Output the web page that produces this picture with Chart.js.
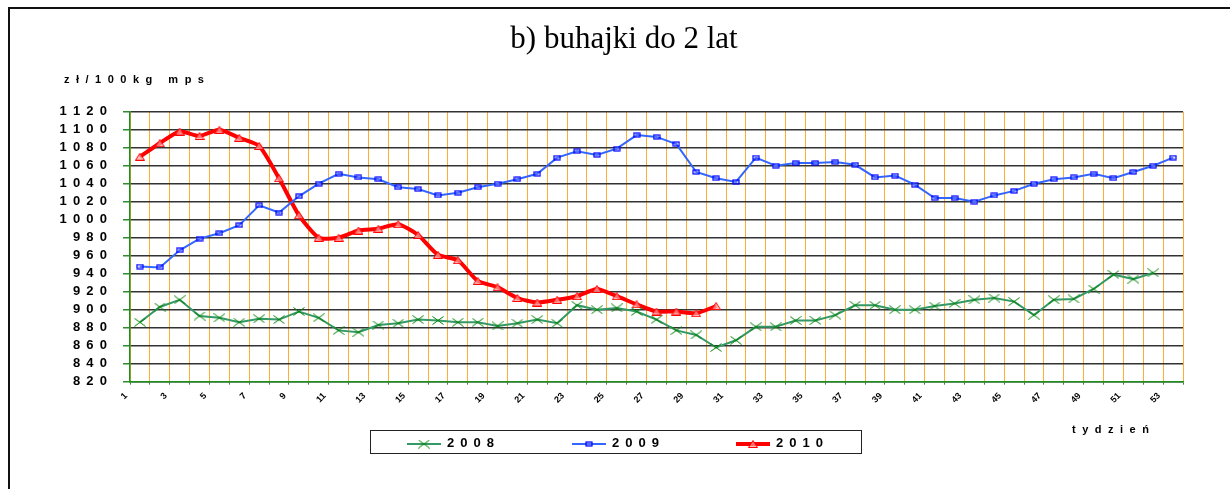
<!DOCTYPE html>
<html lang="pl">
<head>
    <meta charset="UTF-8">
    <title>b) buhajki do 2 lat</title>
    <style>
        body {
            margin: 0;
            padding: 0;
            background: #ffffff;
            font-family: "Liberation Sans", Arial, sans-serif;
            overflow: hidden;
        }
        .frame {
            position: absolute;
            left: 8px;
            top: 7px;
            width: 1400px;
            height: 700px;
            border-left: 2px solid #111;
            border-top: 2px solid #111;
        }
        #chart {
            position: absolute;
            left: 0;
            top: 0;
        }
        .title {
            position: absolute;
            left: 424px;
            width: 400px;
            top: 19px;
            text-align: center;
            font-family: "Liberation Serif", "Times New Roman", serif;
            font-size: 31px;
            line-height: 38px;
            color: #000;
        }
        .lbl {
            position: absolute;
            font-weight: bold;
            font-size: 11px;
            line-height: 14px;
            letter-spacing: 6.5px;
            color: #000;
            white-space: pre;
        }
        .legend {
            position: absolute;
            left: 370px;
            top: 430px;
            width: 490px;
            height: 22px;
            border: 1.5px solid #222;
        }
        .swatch {
            position: absolute;
        }
        .legtext {
            position: absolute;
            font-weight: bold;
            font-size: 13px;
            line-height: 14px;
            letter-spacing: 6px;
            white-space: pre;
        }
    </style>
</head>
<body>
    <div class="frame"></div>
    <canvas id="chart" width="1230" height="489"></canvas>
    <div class="title">b) buhajki do 2 lat</div>
    <div class="lbl" style="left:64px; top:72px;">zł/100kg mps</div>
    <div class="lbl" style="left:1072px; top:422px;">tydzień</div>
    <div class="legend"></div>

    <script src="https://cdn.jsdelivr.net/npm/chart.js"></script>
    <script>
        // weeks of the year
        const weeks = ['1','2','3','4','5','6','7','8','9','10','11','12','13','14','15','16','17','18','19','20',
            '21','22','23','24','25','26','27','28','29','30','31','32','33','34','35','36','37','38','39','40',
            '41','42','43','44','45','46','47','48','49','50','51','52','53'];

        // prices zł/100kg mps
        const prices2008 = [886, 903, 911, 893, 891, 886, 890, 889, 898, 891, 877, 875, 883, 885, 889, 888, 886, 886,
            882, 885, 889, 885, 905, 900, 902, 898, 889, 877, 872, 858, 866, 881, 881, 888, 888, 894, 905, 905,
            900, 900, 904, 907, 911, 913, 909, 894, 911, 912, 923, 939, 934, 941];
        const prices2009 = [948, 947, 966, 979, 985, 994, 1016, 1008, 1026, 1040, 1051, 1047, 1045, 1036, 1034, 1027,
            1030, 1036, 1040, 1045, 1051, 1069, 1076, 1072, 1079, 1094, 1092, 1084, 1053, 1046, 1042, 1069, 1060,
            1063, 1063, 1064, 1061, 1047, 1049, 1039, 1024, 1024, 1020, 1027, 1032, 1040, 1045, 1047, 1051, 1046,
            1053, 1060, 1069];
        const prices2010 = [1070, 1085, 1098, 1093, 1100, 1091, 1082, 1046, 1005, 980, 980, 988, 990, 995, 983, 961,
            955, 932, 925, 913, 908, 911, 915, 923, 915, 906, 898, 898, 896, 904];

        const yearLabels = ['2008', '2009', '2010'];
        const yMin = 820, yMax = 1120, yStep = 20;

        // spread the digits like the original (letter spaced)
        function spaced(s) {
            return String(s).split('').join(' \u2009');
        }

        // small marker pictures, used for points and legend
        function makeMarker(kind) {
            const c = document.createElement('canvas');
            const g = c.getContext('2d');
            if (kind === 'cross') {
                c.width = 12; c.height = 9;
                g.strokeStyle = '#008000';
                g.lineWidth = 1;
                g.beginPath();
                g.moveTo(0.5, 0.5); g.lineTo(11.5, 8.5);
                g.moveTo(11.5, 0.5); g.lineTo(0.5, 8.5);
                g.stroke();
            } else if (kind === 'rect') {
                c.width = 8; c.height = 6;
                g.fillStyle = 'rgba(120,140,255,0.35)';
                g.fillRect(1, 1, 6, 4);
                g.strokeStyle = '#0000ff';
                g.lineWidth = 1.2;
                g.strokeRect(1, 1, 6, 4);
            } else {
                c.width = 10; c.height = 8;
                g.fillStyle = 'rgba(255,160,160,0.7)';
                g.strokeStyle = '#ff0000';
                g.lineWidth = 1;
                g.beginPath();
                g.moveTo(5, 0.5); g.lineTo(9.5, 7.5); g.lineTo(0.5, 7.5); g.closePath();
                g.fill(); g.stroke();
            }
            return c;
        }

        const series = [
            { data: prices2008, color: '#339966', width: 2, marker: makeMarker('cross'), tension: 0 },
            { data: prices2009, color: '#3366ff', width: 2, marker: makeMarker('rect'), tension: 0 },
            { data: prices2010, color: '#ff0000', width: 4, marker: makeMarker('tri'), tension: 0.2 }
        ];

        // legend in a box below the plot
        const legend = document.querySelector('.legend');
        const legendX = [407, 572, 736];
        series.forEach((s, i) => {
            const sw = document.createElement('canvas');
            sw.width = 34; sw.height = 12;
            sw.className = 'swatch';
            sw.style.left = (legendX[i] - 371) + 'px';
            sw.style.top = (444 - 6 - 431) + 'px';
            const g = sw.getContext('2d');
            g.strokeStyle = s.color;
            g.lineWidth = s.width;
            g.beginPath(); g.moveTo(0, 6); g.lineTo(34, 6); g.stroke();
            g.drawImage(s.marker, 17 - s.marker.width / 2, 6 - s.marker.height / 2);
            legend.appendChild(sw);

            const t = document.createElement('div');
            t.className = 'legtext';
            t.textContent = yearLabels[i];
            t.style.left = (legendX[i] + 40 - 371) + 'px';
            t.style.top = (443 - 7 - 431) + 'px';
            legend.appendChild(t);
        });

        const ctx = document.getElementById('chart').getContext('2d');
        new Chart(ctx, {
            type: 'line',
            data: {
                labels: weeks,
                datasets: series.map((s, i) => ({
                    label: yearLabels[i],
                    data: s.data,
                    borderColor: s.color,
                    borderWidth: s.width,
                    tension: s.tension,
                    pointStyle: s.marker,
                    pointRadius: 4,
                    fill: false
                }))
            },
            options: {
                responsive: false,
                animation: false,
                devicePixelRatio: 1,
                layout: { padding: { left: 0, right: 47, top: 111.7, bottom: 77.3 } },
                plugins: {
                    legend: { display: false },
                    tooltip: { enabled: false },
                    title: { display: false }
                },
                scales: {
                    x: {
                        offset: true,
                        afterFit: s => { s.height = 30; },
                        grid: { offset: true, color: '#ffad33', lineWidth: 1, tickLength: 3, tickColor: '#2e8b2e' },
                        border: { color: '#1f8f1f', width: 1.5 },
                        ticks: {
                            autoSkip: false,
                            minRotation: 45,
                            maxRotation: 45,
                            labelOffset: -14,
                            padding: 6,
                            color: '#000',
                            font: { size: 9, weight: 'bold' },
                            callback: function (v, i) { return i % 2 === 0 ? weeks[i] : ''; }
                        }
                    },
                    y: {
                        min: yMin,
                        max: yMax,
                        afterFit: s => { s.width = 130; },
                        grid: { color: '#333', lineWidth: 1.5, tickLength: 7, tickColor: '#2e8b2e' },
                        border: { color: '#1f8f1f', width: 1.5 },
                        ticks: {
                            stepSize: yStep,
                            autoSkip: false,
                            padding: 16,
                            color: '#000',
                            font: { size: 13, weight: 'bold' },
                            callback: v => spaced(v)
                        }
                    }
                }
            }
        });
    </script>
</body>
</html>
